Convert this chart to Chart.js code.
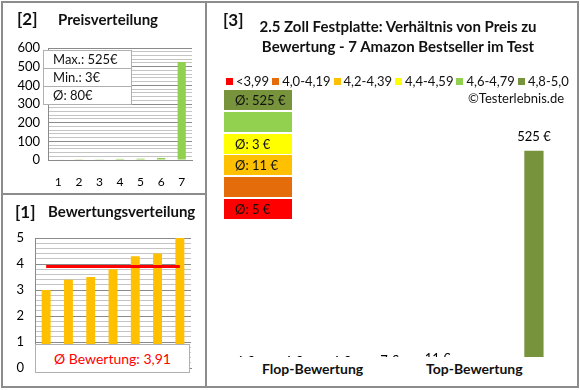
<!DOCTYPE html>
<html>
<head>
<meta charset="utf-8">
<script src="https://cdn.jsdelivr.net/npm/chart.js@4.4.3/dist/chart.umd.min.js"></script>
<style>
  html, body { margin: 0; padding: 0; background: #fff; }
  body { width: 580px; height: 390px; position: relative; overflow: hidden;
         font-family: Lato, "Open Sans", sans-serif; color: #111; }
  .panel { position: absolute; border: 2px solid #8c8c8c; box-sizing: border-box; }
  .abs { position: absolute; white-space: nowrap; }
  canvas { position: absolute; }
  .hdr { font-weight: bold; font-size: 17px; }
  .ttl { font-weight: bold; font-size: 14px; }
  #infoBox { position: absolute; left: 43px; top: 50px; width: 87px; background: #fff;
             border: 1px solid #b0b0b0; font-size: 13px; }
  #infoBox div { height: 17px; line-height: 17px; padding-left: 9px; border-top: 1px solid #b0b0b0; }
  #infoBox div:first-child { border-top: none; }
  #avgBox { position: absolute; left: 35px; top: 344px; width: 155px; height: 29px; background: #fff;
            border: 1px solid #b0b0b0; box-sizing: border-box; color: #ff0000; font-size: 14px;
            text-align: center; line-height: 27px; }
  .legItem { display: inline-block; font-size: 13px; margin-right: 3px; }
  .legItem i { display: inline-block; width: 7px; height: 7px; margin-right: 3px; vertical-align: 1px; }
  .bucket { position: absolute; left: 224px; width: 68px; height: 20px; font-size: 13px;
            line-height: 20px; padding-left: 11px; box-sizing: border-box; }
  #bottomCover { position: absolute; left: 207px; top: 357px; width: 369px; height: 28px; background: #fff; }
</style>
</head>
<body>
<div class="panel" style="left:1px; top:1px; width:206px; height:194px;"></div>
<div class="panel" style="left:1px; top:193px; width:206px; height:195px;"></div>
<div class="panel" style="left:205px; top:1px; width:374px; height:387px;"></div>

<canvas id="priceChart" width="205" height="193" style="left:0; top:0;"></canvas>
<canvas id="ratingChart" width="205" height="194" style="left:0; top:193px;"></canvas>
<canvas id="mainChart" width="373" height="387" style="left:205px; top:0;"></canvas>

<div class="abs hdr" style="left:17px; top:8px;">[2]</div>
<div class="abs ttl" style="left:58px; top:10px; font-size:15px;">Preisverteilung</div>
<div id="infoBox"></div>

<div class="abs hdr" style="left:15px; top:201px;">[1]</div>
<div class="abs ttl" style="left:48px; top:202px; font-size:15px;">Bewertungsverteilung</div>
<div id="avgBox"></div>

<div class="abs hdr" style="left:223px; top:9px;">[3]</div>
<div class="abs ttl" style="left:205px; width:386px; top:16px; text-align:center; font-size:15px; line-height:20px;">
  2.5 Zoll Festplatte: Verhältnis von Preis zu<br>Bewertung - 7 Amazon Bestseller im Test</div>
<div class="abs" id="legendRow" style="left:226px; top:70px;"></div>
<div class="abs" style="left:468px; top:90px; font-size:13px;">©Testerlebnis.de</div>
<div id="buckets"></div>

<div id="bottomCover"></div>
<div class="abs ttl" style="left:262px; top:360px;">Flop-Bewertung</div>
<div class="abs ttl" style="left:426px; top:360px;">Top-Bewertung</div>

<script>
// --- data ---
const priceCats = ['1', '2', '3', '4', '5', '6', '7'];
const pricesSorted = [3, 4, 4, 6, 7, 11, 525];          // price distribution (ascending)
const ratings = [3.0, 3.4, 3.5, 3.8, 4.3, 4.4, 5.0];     // rating distribution
const avgRating = 3.91;
const pricesByRating = [4, 4, 6, 7, 11, 3, 525];        // price of each product, flop -> top
const bucketLabels = ['<3,99', '4,0-4,19', '4,2-4,39', '4,4-4,59', '4,6-4,79', '4,8-5,0'];
const bucketLimits = [3.995, 4.195, 4.395, 4.595, 4.795, 5.01];
const bucketColors = ['#FF0000', '#E46C0A', '#FFC000', '#FFFF00', '#92D050', '#77933C'];
const bucketAvgText = ['Ø: 5 €', '', 'Ø: 11 €', 'Ø: 3 €', '', 'Ø: 525 €'];

const FONT = 'Lato, "Open Sans", sans-serif';
const bucketOf = r => bucketLimits.findIndex(l => r < l);

// --- html bits ---
const maxP = Math.max(...pricesSorted), minP = Math.min(...pricesSorted);
const avgP = Math.round(pricesSorted.reduce((a, b) => a + b, 0) / pricesSorted.length);
document.getElementById('infoBox').innerHTML =
    `<div>Max.: ${maxP}€</div><div>Min.: ${minP}€</div><div>Ø: ${avgP}€</div>`;
document.getElementById('avgBox').textContent = 'Ø Bewertung: ' + avgRating.toFixed(2).replace('.', ',');

document.getElementById('legendRow').innerHTML = bucketLabels.map((l, i) =>
    `<span class="legItem"><i style="background:${bucketColors[i]}"></i>${l}</span>`).join('');

const bucketsEl = document.getElementById('buckets');
for (let i = bucketLabels.length - 1, k = 0; i >= 0; i--, k++) {
    const d = document.createElement('div');
    d.className = 'bucket';
    d.style.top = (90 + k * 21.8) + 'px';
    d.style.background = bucketColors[i];
    d.textContent = bucketAvgText[i];
    bucketsEl.appendChild(d);
}

// --- charts ---
Chart.defaults.font.family = FONT;
Chart.defaults.color = '#000';

// major lines darker, minor lines lighter
const gridColor = step => ctx => (ctx.tick && Math.abs(ctx.tick.value / step - Math.round(ctx.tick.value / step)) < 1e-6)
    ? '#8a8a8a' : '#c4c4c4';

new Chart(document.getElementById('priceChart'), {
    type: 'bar',
    data: { labels: priceCats, datasets: [{ data: pricesSorted, backgroundColor: '#92D050',
            categoryPercentage: 1, barPercentage: 0.4 }] },
    options: {
        responsive: false, animation: false, devicePixelRatio: 1,
        layout: { padding: { top: 48, right: 13 } },
        plugins: { legend: { display: false }, tooltip: { enabled: false } },
        scales: {
            x: { grid: { display: false, drawTicks: false }, border: { color: '#8a8a8a' },
                 ticks: { padding: 15, font: { size: 12 } },
                 afterFit: s => { s.height = 33; } },
            y: { min: 0, max: 600, grid: { color: gridColor(100), drawTicks: false },
                 border: { color: '#8a8a8a' },
                 ticks: { stepSize: 20, autoSkip: false, padding: 8, font: { size: 13 },
                          callback: v => v % 100 === 0 ? v : '' },
                 afterFit: s => { s.width = 48; } }
        }
    }
});

new Chart(document.getElementById('ratingChart'), {
    data: { labels: priceCats, datasets: [
        { type: 'line', data: ratings.map(() => avgRating), borderColor: '#FF0000', borderWidth: 3,
          pointRadius: 0 },
        { type: 'bar', data: ratings, backgroundColor: '#FFC000', categoryPercentage: 1, barPercentage: 0.4 }
    ] },
    options: {
        responsive: false, animation: false, devicePixelRatio: 1,
        layout: { padding: { top: 45, right: 14 } },
        plugins: { legend: { display: false }, tooltip: { enabled: false } },
        scales: {
            x: { grid: { color: 'transparent', drawTicks: false }, border: { color: '#8a8a8a' },
                 ticks: { display: false }, afterFit: s => { s.height = 14; } },
            y: { min: 0, max: 5, grid: { color: gridColor(1), drawTicks: false },
                 border: { color: '#8a8a8a' },
                 ticks: { stepSize: 0.2, autoSkip: false, padding: 11, font: { size: 13 },
                          callback: v => Math.abs(v - Math.round(v)) < 1e-6 ? Math.round(v) : '' },
                 afterFit: s => { s.width = 35; } }
        }
    }
});

const valueLabels = {
    id: 'valueLabels',
    afterDatasetsDraw(chart) {
        const ctx = chart.ctx;
        const meta = chart.getDatasetMeta(0);
        ctx.save();
        ctx.font = '13px ' + FONT;
        ctx.fillStyle = '#000';
        ctx.textAlign = 'center';
        ctx.textBaseline = 'middle';
        meta.data.forEach((bar, i) => {
            ctx.fillText(pricesByRating[i] + ' €', bar.x, bar.y - 14);
        });
        ctx.restore();
    }
};

new Chart(document.getElementById('mainChart'), {
    type: 'bar',
    data: { labels: priceCats, datasets: [{ data: pricesByRating,
            backgroundColor: ratings.map(r => bucketColors[bucketOf(r)]),
            categoryPercentage: 1, barPercentage: 0.4 }] },
    options: {
        responsive: false, animation: false, devicePixelRatio: 1,
        layout: { padding: { left: 16, right: 20, top: 75, bottom: 9 } },
        plugins: { legend: { display: false }, tooltip: { enabled: false } },
        scales: {
            x: { display: false },
            y: { display: false, min: 0, max: 700 }
        }
    },
    plugins: [valueLabels]
});
</script>
</body>
</html>
